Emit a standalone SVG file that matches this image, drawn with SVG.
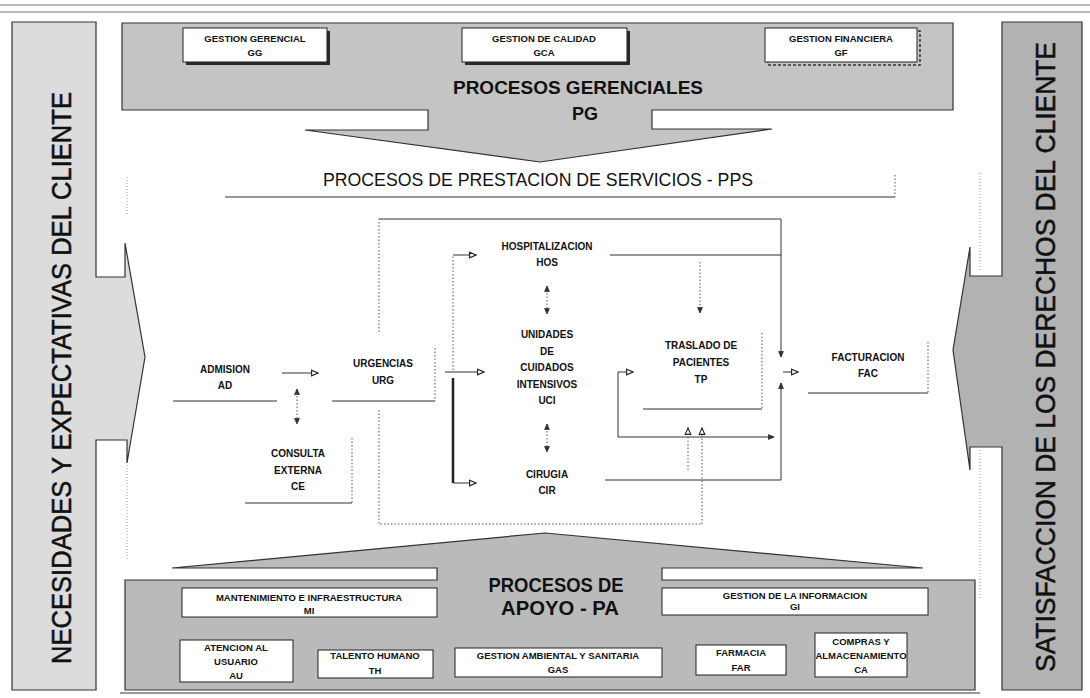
<svg xmlns="http://www.w3.org/2000/svg" width="1090" height="698" viewBox="0 0 1090 698">
<defs>
<marker id="ao" viewBox="0 0 10 10" refX="9" refY="5" markerWidth="8" markerHeight="8" orient="auto-start-reverse" markerUnits="userSpaceOnUse"><path d="M1,1.5 L9,5 L1,8.5 Z" fill="#fff" stroke="#222" stroke-width="1.4"/></marker>
<marker id="af" viewBox="0 0 10 10" refX="9" refY="5" markerWidth="7" markerHeight="7" orient="auto-start-reverse" markerUnits="userSpaceOnUse"><path d="M1,1.5 L9,5 L1,8.5 Z" fill="#333" stroke="#222" stroke-width="1"/></marker>
</defs>
<style>
.panel{stroke:#333;stroke-width:1.2}
.box{fill:#fff;stroke:#222;stroke-width:1}
.shadow{fill:#2a2a2a}
.lbl{font-family:"Liberation Sans",Arial,sans-serif;font-size:9.5px;font-weight:bold;text-anchor:middle;fill:#111}
.clbl{font-family:"Liberation Sans",Arial,sans-serif;font-size:10px;font-weight:bold;text-anchor:middle;fill:#111}
.big{font-family:"Liberation Sans Narrow","Liberation Sans",Arial,sans-serif;font-weight:bold;text-anchor:middle;fill:#111}
.side{font-family:"Liberation Sans Narrow","Liberation Sans",Arial,sans-serif;font-size:27px;text-anchor:middle;fill:#111;stroke:#111;stroke-width:0.5}
.ln{stroke:#333;stroke-width:1;fill:none}
.thk{stroke:#222;stroke-width:2.5;fill:none}
.dot{stroke:#555;stroke-width:1;stroke-dasharray:1.5 2;fill:none}
.faint{stroke:#999;stroke-width:1;stroke-dasharray:1 2;fill:none}
</style>
<rect x="0" y="0" width="1090" height="698" fill="#fff"/>
<g id="frame">
<line x1="0" y1="5" x2="1090" y2="5" stroke="#777" stroke-width="1.2"/>
<line x1="0" y1="12" x2="1090" y2="12" stroke="#777" stroke-width="1.2"/>
<line x1="120" y1="693" x2="980" y2="693" stroke="#777" stroke-width="1.5"/>
</g>
<g id="left-panel">
<path class="panel" fill="#dcdcdc" d="M12,22 H96 V277 H125 V243 L145,357 L127,463 V440 H96 V690 H12 Z"/>
<text class="side" transform="translate(62,378) rotate(-90)" textLength="572" lengthAdjust="spacingAndGlyphs" y="9">NECESIDADES Y EXPECTATIVAS DEL CLIENTE</text>
</g>
<g id="right-panel">
<path class="panel" fill="#b2b2b2" d="M1082,22 H1002 V276 H970 V247 L953,350 L970,470 V447 H1002 V690 H1082 Z"/>
<text class="side" transform="translate(1046,357) rotate(-90)" textLength="630" lengthAdjust="spacingAndGlyphs" y="9">SATISFACCION DE LOS DERECHOS DEL CLIENTE</text>
</g>
<g id="pg-panel">
<path class="panel" fill="#c4c4c4" d="M122,23 H953 V110 H652 V129 H772 L540,162 L305,130 H428 V110 H122 Z"/>
<text class="big" x="578" y="94" font-size="19" textLength="250" lengthAdjust="spacingAndGlyphs">PROCESOS GERENCIALES</text>
<text class="big" x="585" y="120" font-size="18">PG</text>
</g>
<g id="gg">
<rect class="shadow" x="186" y="31" width="144" height="34"/>
<rect class="box" x="183" y="28" width="144" height="34"/>
<text class="lbl" x="255" y="42">GESTION GERENCIAL</text>
<text class="lbl" x="255" y="56">GG</text>
</g>
<g id="gca">
<rect class="shadow" x="465" y="31" width="165" height="34"/>
<rect class="box" x="462" y="28" width="165" height="34"/>
<text class="lbl" x="544" y="42">GESTION DE CALIDAD</text>
<text class="lbl" x="544" y="56">GCA</text>
</g>
<g id="gf">
<rect x="768" y="31" width="152" height="34" fill="none" stroke="#333" stroke-width="1.5" stroke-dasharray="3 2"/>
<rect class="box" x="765" y="28" width="152" height="34"/>
<text class="lbl" x="841" y="42">GESTION FINANCIERA</text>
<text class="lbl" x="841" y="56">GF</text>
</g>
<g id="pps-title">
<text x="538" y="186" font-family="Liberation Sans, Arial, sans-serif" font-size="18" text-anchor="middle" fill="#111" textLength="430" lengthAdjust="spacingAndGlyphs">PROCESOS DE PRESTACION DE SERVICIOS - PPS</text>
<path class="ln" d="M225,197 H895"/>
<path class="dot" d="M895,175 V197"/>
</g>
<g id="ad">
<text class="clbl" x="225" y="373">ADMISION</text>
<text class="clbl" x="225" y="389">AD</text>
<path class="ln" d="M173,401 H277"/>
</g>
<g id="urg">
<text class="clbl" x="383" y="367">URGENCIAS</text>
<text class="clbl" x="383" y="384">URG</text>
<path class="ln" d="M332,401 H435"/>
<path class="dot" d="M435,348 V401"/>
</g>
<g id="ce">
<text class="clbl" x="298" y="457">CONSULTA</text>
<text class="clbl" x="298" y="474">EXTERNA</text>
<text class="clbl" x="298" y="490">CE</text>
<path class="ln" d="M245,503 H352"/>
<path class="dot" d="M352,438 V503"/>
</g>
<g id="hos">
<text class="clbl" x="547" y="250">HOSPITALIZACION</text>
<text class="clbl" x="547" y="266">HOS</text>
</g>
<g id="uci">
<text class="clbl" x="547" y="338">UNIDADES</text>
<text class="clbl" x="547" y="355">DE</text>
<text class="clbl" x="547" y="371">CUIDADOS</text>
<text class="clbl" x="547" y="388">INTENSIVOS</text>
<text class="clbl" x="547" y="404">UCI</text>
</g>
<g id="cir">
<text class="clbl" x="547" y="478">CIRUGIA</text>
<text class="clbl" x="547" y="494">CIR</text>
</g>
<g id="tp">
<text class="clbl" x="701" y="349">TRASLADO DE</text>
<text class="clbl" x="701" y="366">PACIENTES</text>
<text class="clbl" x="701" y="383">TP</text>
<path class="ln" d="M643,409 H762"/>
<path class="dot" d="M762,333 V409"/>
</g>
<g id="fac">
<text class="clbl" x="868" y="361">FACTURACION</text>
<text class="clbl" x="868" y="377">FAC</text>
<path class="ln" d="M808,393 H928"/>
<path class="dot" d="M928,342 V393"/>
</g>
<g id="connectors">
<path class="ln" d="M282,373 H318" marker-end="url(#ao)"/>
<path class="dot" d="M297,389 V424" marker-start="url(#af)" marker-end="url(#af)"/>
<path class="ln" d="M445,372 H484" marker-end="url(#ao)"/>
<path class="dot" d="M453,370 V255"/>
<path class="ln" d="M453,255 H476" marker-end="url(#ao)"/>
<path class="thk" d="M453,378 V483"/>
<path class="ln" d="M453,483 H476" marker-end="url(#ao)"/>
<path class="dot" d="M547,286 V314" marker-start="url(#af)" marker-end="url(#af)"/>
<path class="dot" d="M547,424 V452" marker-start="url(#af)" marker-end="url(#af)"/>
<path class="dot" d="M379,332 V219"/>
<path class="ln" d="M379,219 H781 V357" marker-end="url(#af)"/>
<path class="ln" d="M610,255 H781"/>
<path class="dot" d="M700,262 V313" marker-end="url(#af)"/>
<path class="ln" d="M618,437 V372 H633" marker-end="url(#ao)"/>
<path class="ln" d="M618,437 H774" marker-end="url(#af)"/>
<path class="dot" d="M688,470 V428" marker-end="url(#ao)"/>
<path class="dot" d="M702,524 V428" marker-end="url(#ao)"/>
<path class="ln" d="M605,480 H781 V383" marker-end="url(#af)"/>
<path class="ln" d="M783,372 H798" marker-end="url(#ao)"/>
<path class="dot" d="M379,410 V524 H702"/>
<path class="faint" d="M127,177 V215 M127,465 V560 M980,173 V270 M980,450 V600"/>
</g>
<g id="pa-panel">
<path class="panel" fill="#bababa" d="M125,580 H437 V568 H172 L545,533 L923,568 H662 V580 H975 V690 H125 Z"/>
<text class="big" x="556" y="592" font-size="20" textLength="135" lengthAdjust="spacingAndGlyphs">PROCESOS DE</text>
<text class="big" x="560" y="615" font-size="20" textLength="118" lengthAdjust="spacingAndGlyphs">APOYO - PA</text>
</g>
<g id="mi">
<rect class="box" x="182" y="588" width="255" height="29"/>
<text class="lbl" x="309" y="601">MANTENIMIENTO E INFRAESTRUCTURA</text>
<text class="lbl" x="309" y="614">MI</text>
</g>
<g id="gi">
<rect class="box" x="662" y="588" width="266" height="27"/>
<text class="lbl" x="795" y="599">GESTION DE LA INFORMACION</text>
<text class="lbl" x="795" y="610">GI</text>
</g>
<g id="au">
<rect class="box" x="180" y="640" width="113" height="42"/>
<text class="lbl" x="236" y="651">ATENCION AL</text>
<text class="lbl" x="236" y="665">USUARIO</text>
<text class="lbl" x="236" y="679">AU</text>
</g>
<g id="th">
<rect class="box" x="318" y="650" width="115" height="28"/>
<text class="lbl" x="375" y="659">TALENTO HUMANO</text>
<text class="lbl" x="375" y="674">TH</text>
</g>
<g id="gas">
<rect class="box" x="455" y="648" width="207" height="29"/>
<text class="lbl" x="558" y="659">GESTION AMBIENTAL Y SANITARIA</text>
<text class="lbl" x="558" y="673">GAS</text>
</g>
<g id="far">
<rect class="box" x="696" y="645" width="90" height="30"/>
<text class="lbl" x="741" y="656">FARMACIA</text>
<text class="lbl" x="741" y="671">FAR</text>
</g>
<g id="ca">
<rect class="box" x="815" y="633" width="92" height="44"/>
<text class="lbl" x="861" y="645">COMPRAS Y</text>
<text class="lbl" x="861" y="659">ALMACENAMIENTO</text>
<text class="lbl" x="861" y="673">CA</text>
</g>
</svg>
